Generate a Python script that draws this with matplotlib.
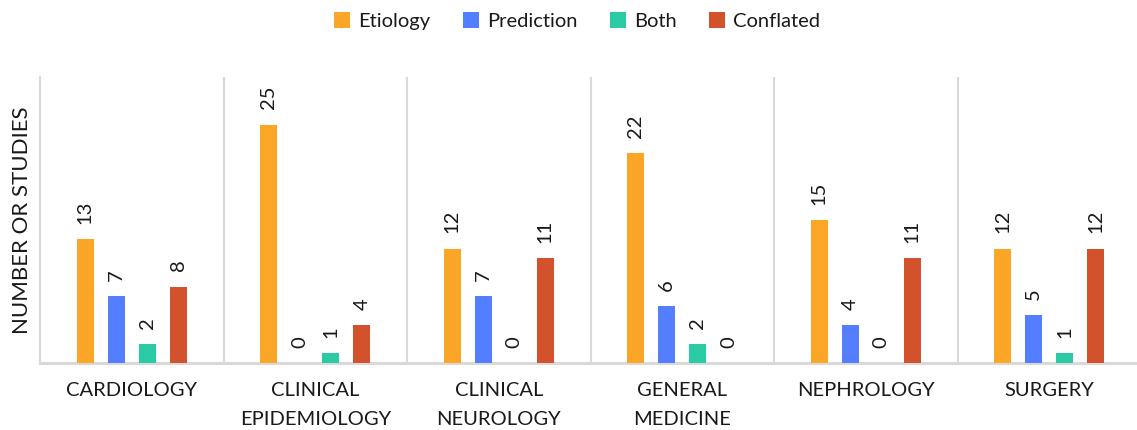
import numpy as np
import matplotlib
matplotlib.use('Agg')
import matplotlib.pyplot as plt

plt.rcParams['font.family'] = ['Lato', 'DejaVu Sans']

categories = ['CARDIOLOGY', 'CLINICAL\nEPIDEMIOLOGY', 'CLINICAL\nNEUROLOGY',
              'GENERAL\nMEDICINE', 'NEPHROLOGY', 'SURGERY']
etiology = [13, 25, 12, 22, 15, 12]
prediction = [7, 0, 7, 6, 4, 5]
both = [2, 1, 0, 2, 0, 1]
conflated = [8, 4, 11, 0, 11, 12]

series_names = ['Etiology', 'Prediction', 'Both', 'Conflated']
colors = ['#FCA628', '#527EFF', '#2ACAA4', '#D2532B']

W, H = 1137, 430
fig = plt.figure(figsize=(W / 100, H / 100), dpi=100)
ax = fig.add_axes([40 / W, 67 / H, 1101 / W, 286 / H])

x = np.arange(len(categories))
step = 0.169
width = 0.092
txt_col = '#1a1a1a'

for i, (name, vals, col) in enumerate(zip(series_names, [etiology, prediction, both, conflated], colors)):
    pos = x + (i - 1.5) * step
    ax.bar(pos, vals, width, color=col, label=name, zorder=3)
    for px, v in zip(pos, vals):
        ax.annotate(str(v), (px, v), xytext=(0, 11), textcoords='offset points',
                    rotation=90, ha='center', va='bottom', fontsize=14.5, color=txt_col)

ax.set_xlim(-0.5, len(categories) - 0.5)
ax.set_ylim(0, 30)
ax.vlines(x[:-1] + 0.5, 0, 30, color='#d9d9d9', lw=1.5, zorder=1)

for s in ['top', 'right']:
    ax.spines[s].set_visible(False)
ax.spines['left'].set_color('#d9d9d9')
ax.spines['left'].set_linewidth(1.5)
ax.spines['bottom'].set_color('#d9d9d9')
ax.spines['bottom'].set_linewidth(2.2)

ax.set_yticks([])
ax.set_xticks(x)
ax.set_xticklabels(categories, fontsize=14.5, color=txt_col, linespacing=1.85)
ax.tick_params(axis='x', length=0, pad=14)

fig.text(22 / W, 1 - 220 / H, 'NUMBER OR STUDIES', rotation=90, ha='center', va='center',
         fontsize=16, color=txt_col)

handles, labels = ax.get_legend_handles_labels()
fig.legend(handles, labels, loc='center', bbox_to_anchor=(577 / W, 1 - 21 / H), ncol=4,
           frameon=False, fontsize=14.5, handlelength=0.8, handleheight=0.8,
           handletextpad=0.4, columnspacing=1.6, labelcolor=txt_col)

fig.savefig('out.png', dpi=100)
